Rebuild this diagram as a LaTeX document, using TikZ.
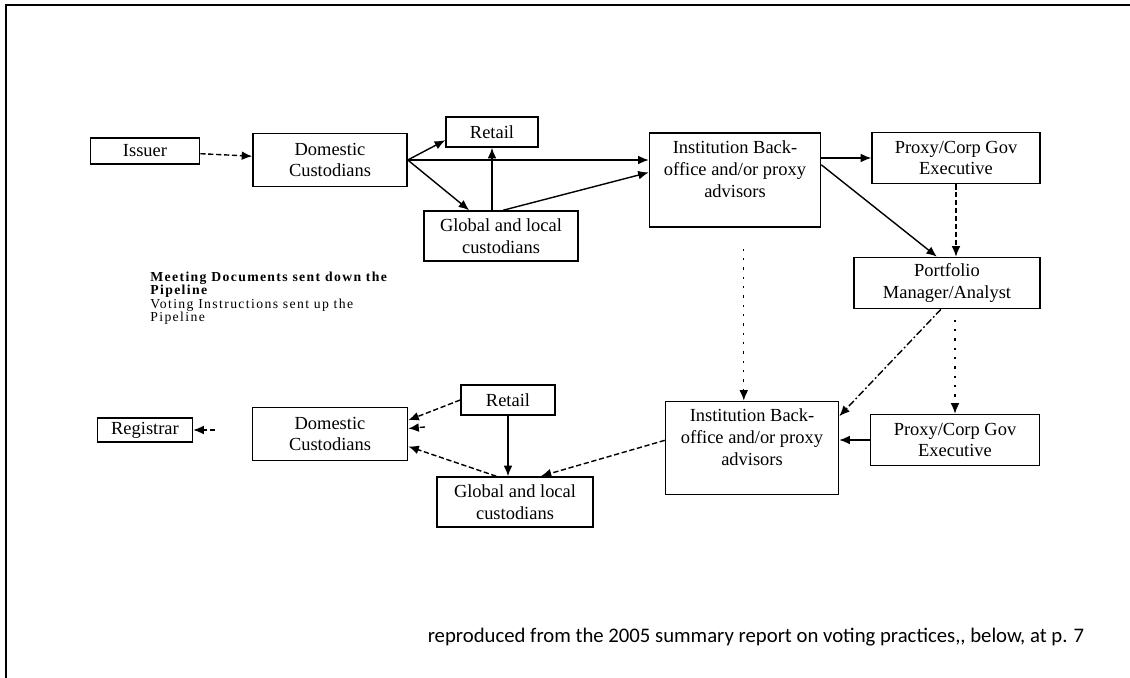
\documentclass[tikz,border=0pt]{standalone}
\usepackage{fontspec}
\setmainfont{Liberation Serif}
\newfontfamily\legendfont[LetterSpace=10]{Liberation Serif}
\newfontfamily\notefont{Carlito}
\usepackage{tikz}
\usetikzlibrary{arrows.meta}
\tikzset{>={Latex[length=6pt,width=5pt]}}
\tikzstyle{flowbox}=[rectangle, draw, line width=0.9pt, inner sep=0pt, align=center, font=\fontsize{10.5}{12.5}\selectfont]
\tikzstyle{dashline}=[dash pattern=on 3pt off 1.5pt]
\tikzstyle{dotline}=[dash pattern=on 1.3pt off 4pt]
\tikzstyle{dashdotline}=[dash pattern=on 4pt off 1.5pt on 1pt off 1.5pt]
\tikzstyle{legend}=[anchor=north west, align=left, inner sep=0pt]
\newcommand{\flowbox}{\node[flowbox]}

\begin{document}
\begin{tikzpicture}[x=0.02cm, y=-0.02cm]
\useasboundingbox (0,0) rectangle (1130,678);
\draw [line width=1.2pt] (1130,5) -- (6,5) -- (6,678);
% meeting documents, down the pipeline
\flowbox[minimum width=2.18cm, minimum height=0.52cm] (iss) at (145,151) {Issuer};
\flowbox[minimum width=3.08cm, minimum height=1.06cm] (dom1) at (330,160) {Domestic\\Custodians};
\flowbox[minimum width=1.84cm, minimum height=0.60cm] (ret1) at (492,132) {Retail};
\flowbox[minimum width=3.08cm, minimum height=1.00cm] (glo1) at (501,236) {Global and local\\custodians};
\flowbox[minimum width=3.42cm, minimum height=1.88cm] (ins1) at (735,180) {Institution Back-\\office and/or proxy\\advisors\\ \mbox{}};
\flowbox[minimum width=3.36cm, minimum height=1.02cm] (pro1) at (956,158) {Proxy/Corp Gov\\Executive};
\flowbox[minimum width=3.72cm, minimum height=1.02cm] (por) at (947,283) {Portfolio\\Manager/Analyst};
% voting instructions, up the pipeline
\flowbox[minimum width=1.90cm, minimum height=0.48cm] (reg) at (145,430) {Registrar};
\flowbox[minimum width=3.10cm, minimum height=1.06cm] (dom2) at (330,434) {Domestic\\Custodians};
\flowbox[minimum width=1.88cm, minimum height=0.60cm] (ret2) at (508,400) {Retail};
\flowbox[minimum width=3.12cm, minimum height=1.00cm] (glo2) at (515,502) {Global and local\\custodians};
\flowbox[minimum width=3.46cm, minimum height=1.86cm] (ins2) at (752,448) {Institution Back-\\office and/or proxy\\advisors\\ \mbox{}};
\flowbox[minimum width=3.38cm, minimum height=1.02cm] (pro2) at (955,440) {Proxy/Corp Gov\\Executive};
\coordinate (regin) at (215,430);
\coordinate (domin) at (425,427);
% legend and source
\node[legend, font=\legendfont\fontsize{7.8}{7.4}\selectfont\bfseries] (down) at (150,272) {Meeting Documents sent down the\\Pipeline};
\node[legend, font=\legendfont\fontsize{7.8}{7.4}\selectfont] (up) at (150,299) {Voting Instructions sent up the\\Pipeline};
\node[font=\notefont\fontsize{11.8}{14}\selectfont] (src) at (756,637) {reproduced from the 2005 summary report on voting practices,, below, at p. 7};

\draw [thick] (iss) edge[->,dashline] (dom1);
\draw [thick]
(dom1.east) edge[->] (ret1.190)
(dom1.east) edge[->] (glo1.141)
(dom1.east) edge[->] (dom1.east -| ins1.west)
(ret1.south |- glo1.north) edge[->] (ret1.south)
(glo1.85) edge[->] (ins1.175)
(pro1.west -| ins1.east) edge[->] (pro1.west)
(ins1.10) edge[->] (por.111);
\draw [->,thick,dashline] (pro1.south) to (pro1.south |- por.north);
\draw [->,thick,dotline,shorten <=12pt] ([xshift=5pt]ins1.south) to ([xshift=5pt]ins1.south |- ins2.north);
\draw [->,thick,dashdotline] (por.257) to (ins2.20);
\draw [->,thick,dotline,shorten <=6pt] (pro2.north |- por.south) to (pro2.north);
\draw [thick]
(pro2.west) edge[->] (pro2.west -| ins2.east)
(ret2.south) edge[->] (ret2.south |- glo2.north);
\draw [thick]
(ins2.175) edge[->,dashline] (glo2.45)
(ret2.west) edge[->,dashline] (dom2.10)
(glo2.126) edge[->,dashline] (dom2.351)
(domin) edge[->,dashline] (dom2.4)
(regin) edge[->,dashline] (reg.east);
\end{tikzpicture}
\end{document}
